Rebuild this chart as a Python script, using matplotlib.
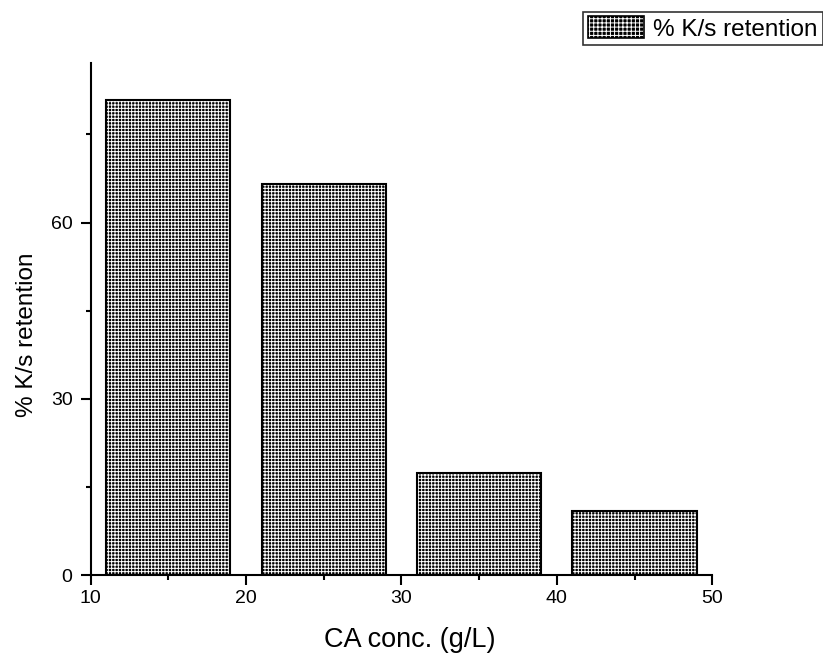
import numpy as np
import matplotlib
matplotlib.use("Agg")
import matplotlib.pyplot as plt
from matplotlib.patches import Patch
from matplotlib.ticker import MultipleLocator

plt.rcParams['font.family'] = ['Liberation Sans', 'DejaVu Sans']
plt.rcParams['hatch.linewidth'] = 0.7

# data
conc = [15, 25, 35, 45]
retention = [80.8, 66.5, 17.4, 10.9]
bar_width = 8

fig = plt.figure(figsize=(8.23, 6.55), dpi=100)
ax = fig.add_axes([0.110, 0.1221, 0.7555, 0.782])

# hatched fill (black with white grid), then black outline on top
ax.bar(conc, retention, width=bar_width, color='black', edgecolor='white',
       hatch='+++++', linewidth=0)
ax.bar(conc, retention, width=bar_width, fill=False, edgecolor='black',
       linewidth=1.5)

ax.set_xlim(10, 50)
ax.set_ylim(0, 87.2)
ax.xaxis.set_major_locator(MultipleLocator(10))
ax.xaxis.set_minor_locator(MultipleLocator(5))
ax.yaxis.set_major_locator(MultipleLocator(30))
ax.yaxis.set_minor_locator(MultipleLocator(15))

for s in ['top', 'right']:
    ax.spines[s].set_visible(False)
for s in ['left', 'bottom']:
    ax.spines[s].set_linewidth(1.5)
ax.tick_params(which='major', direction='out', length=7, width=1.5, labelsize=14)
ax.tick_params(which='minor', direction='out', length=3.5, width=1.5)
ax.tick_params(axis='x', which='major', pad=4)
ax.tick_params(axis='y', which='major', pad=6)

ax.set_xlabel('CA conc. (g/L)', fontsize=19.5, labelpad=14)
ax.set_ylabel('% K/s retention', fontsize=17.5, labelpad=9.5)
ax.xaxis.label.set_x(0.514)
ax.yaxis.label.set_y(0.47)

h_fill = Patch(facecolor='black', edgecolor='white', hatch='++++', linewidth=0)
h_edge = Patch(fill=False, edgecolor='black', linewidth=1.2)
leg = fig.legend([(h_fill, h_edge)], ['% K/s retention'], loc='upper left',
                 bbox_to_anchor=(583 / 823, 1 - 11.5 / 655), fontsize=17.5,
                 frameon=True, fancybox=False, handlelength=2.3,
                 handleheight=1.0, borderpad=0.2, handletextpad=0.4,
                 borderaxespad=0)
leg.get_frame().set_edgecolor('black')
leg.get_frame().set_linewidth(1.2)

fig.savefig('out.png', dpi=100)
